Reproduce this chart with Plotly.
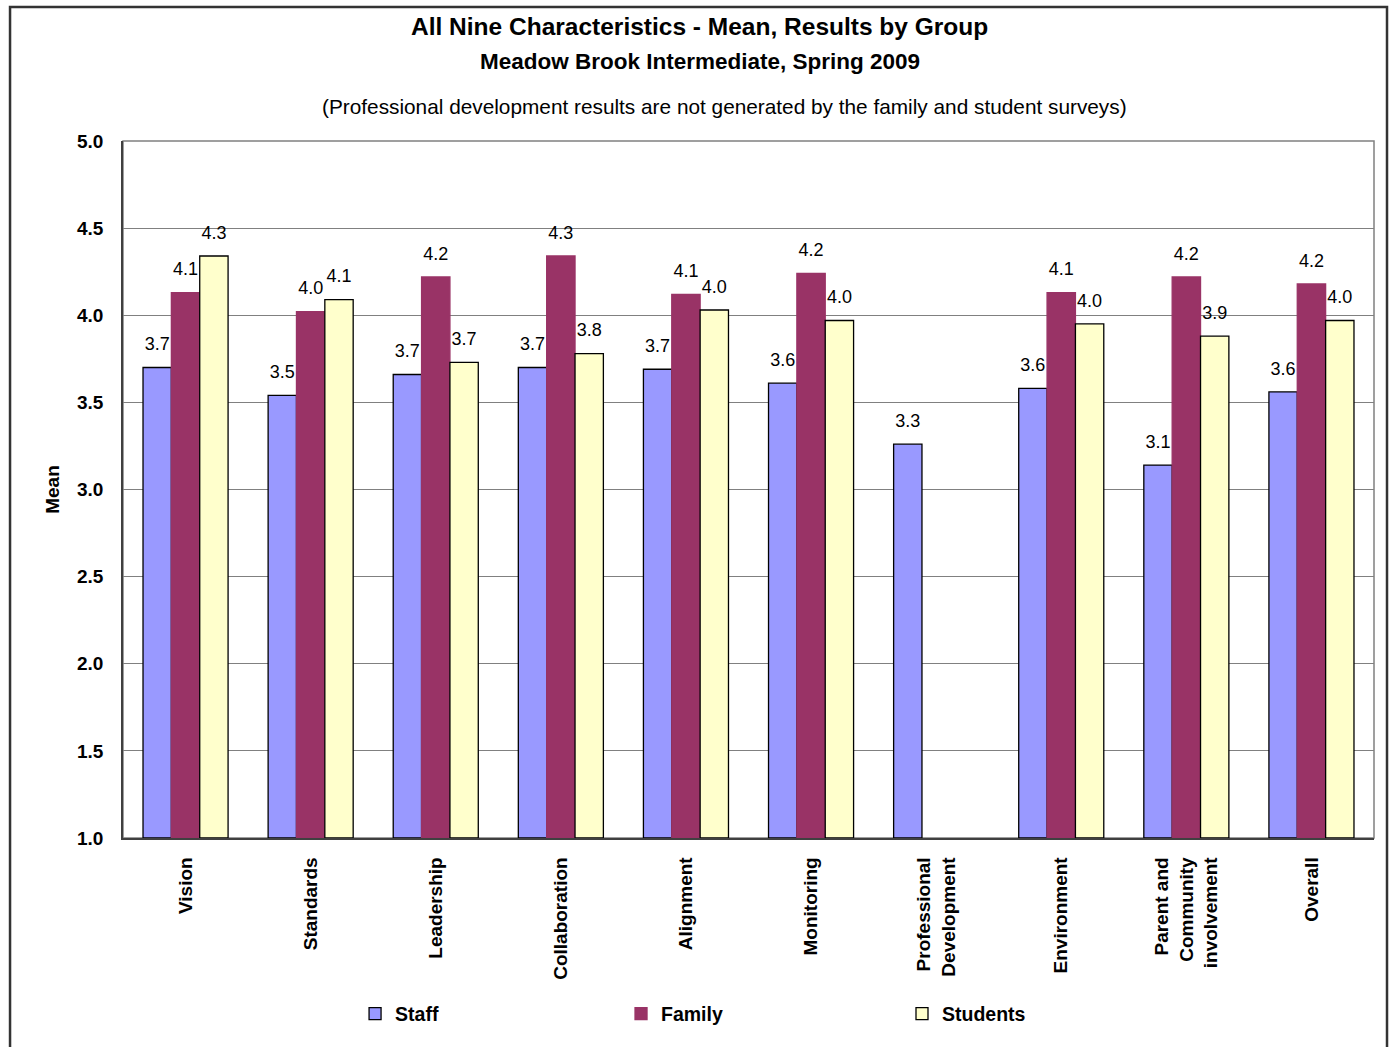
import plotly.graph_objects as go

categories = ["Vision", "Standards", "Leadership", "Collaboration", "Alignment",
              "Monitoring", "Professional<br>Development", "Environment",
              "Parent and<br>Community<br>involvement", "Overall"]
staff = [3.70, 3.54, 3.66, 3.70, 3.69, 3.61, 3.26, 3.58, 3.14, 3.56]
family = [4.13, 4.02, 4.22, 4.34, 4.12, 4.24, None, 4.13, 4.22, 4.18]
students = [4.34, 4.09, 3.73, 3.78, 4.03, 3.97, None, 3.95, 3.88, 3.97]

series = [
    ("Staff", staff, "#9999FF", "#000000", "legend"),
    ("Family", family, "#993366", "#993366", "legend2"),
    ("Students", students, "#FFFFCC", "#000000", "legend3"),
]

FONT = "Liberation Sans, Arial, sans-serif"

fig = go.Figure()
for name, vals, color, lc, lg in series:
    fig.add_trace(go.Bar(
        name=name, x=categories, y=[v - 1.0 if v is not None else None for v in vals],
        base=1.0, legend=lg,
        marker=dict(color=color, line=dict(color=lc, width=1.3)),
        hoverinfo="skip",
    ))
for name, vals, color, lc, lg in series:
    fig.add_trace(go.Scatter(
        name=name + " labels", x=categories, y=vals, mode="markers+text",
        marker=dict(size=19, opacity=0, color=color),
        text=[f"{v:.1f}" if v is not None else "" for v in vals],
        textposition="top center", cliponaxis=False, showlegend=False,
        textfont=dict(family=FONT, size=18, color="#000000"),
        hoverinfo="skip",
    ))

legend_style = dict(orientation="h", xanchor="left", y=-0.2525, yanchor="middle",
                    font=dict(family=FONT, size=19.5, color="#000000", weight="bold"),
                    itemclick=False, bgcolor="rgba(0,0,0,0)")

fig.update_layout(
    width=1390, height=1047,
    margin=dict(l=123, r=16, t=141, b=209),
    paper_bgcolor="white", plot_bgcolor="white",
    barmode="group", bargap=0.32, bargroupgap=0,
    scattermode="group", scattergap=0.32,
    font=dict(family=FONT, color="#000000"),
    showlegend=True,
    legend=dict(x=0.1855, **legend_style),
    legend2=dict(x=0.3981, **legend_style),
    legend3=dict(x=0.6227, **legend_style),
)

fig.update_yaxes(
    range=[1.0, 5.0], dtick=0.5, tick0=1.0, tickformat=".1f",
    showgrid=True, gridcolor="#808080", gridwidth=1,
    showline=True, linecolor="#404040", linewidth=1.5,
    ticks="", ticklabelstandoff=14,
    tickfont=dict(family=FONT, size=19, color="#000000", weight="bold"),
    title=dict(text="Mean", standoff=12,
               font=dict(family=FONT, size=19, color="#000000", weight="bold")),
    zeroline=False,
)
fig.update_xaxes(
    showline=True, linecolor="#404040", linewidth=1.5,
    ticks="", tickangle=-90, ticklabelstandoff=10,
    tickfont=dict(family=FONT, size=19, color="#000000", weight="bold"),
    showgrid=False,
)

# plot area border (top/right gray)
fig.add_shape(type="rect", xref="paper", yref="paper", x0=0, x1=1, y0=0, y1=1,
              line=dict(color="#808080", width=1.5), layer="below")
# outer chart border
fig.add_shape(type="rect", xref="paper", yref="paper", x0=-0.0903, x1=1.0104,
              y0=-0.35, y1=1.1922, line=dict(color="#333333", width=2.5), layer="below")

cx = (699.5 - 123) / 1251
fig.add_annotation(text="<b>All Nine Characteristics - Mean, Results by Group</b>",
                   xref="paper", yref="paper", x=cx, y=(838 - 27) / 697,
                   showarrow=False, xanchor="center", yanchor="middle",
                   font=dict(family=FONT, size=24.5, color="#000000"))
fig.add_annotation(text="<b>Meadow Brook Intermediate, Spring 2009</b>",
                   xref="paper", yref="paper", x=cx, y=(838 - 61) / 697,
                   showarrow=False, xanchor="center", yanchor="middle",
                   font=dict(family=FONT, size=22.5, color="#000000"))
fig.add_annotation(text="(Professional development results are not generated by the family and student surveys)",
                   xref="paper", yref="paper", x=(724.5 - 123) / 1251, y=(838 - 107) / 697,
                   showarrow=False, xanchor="center", yanchor="middle",
                   font=dict(family=FONT, size=20.8, color="#000000"))

fig.write_html("out.html")
